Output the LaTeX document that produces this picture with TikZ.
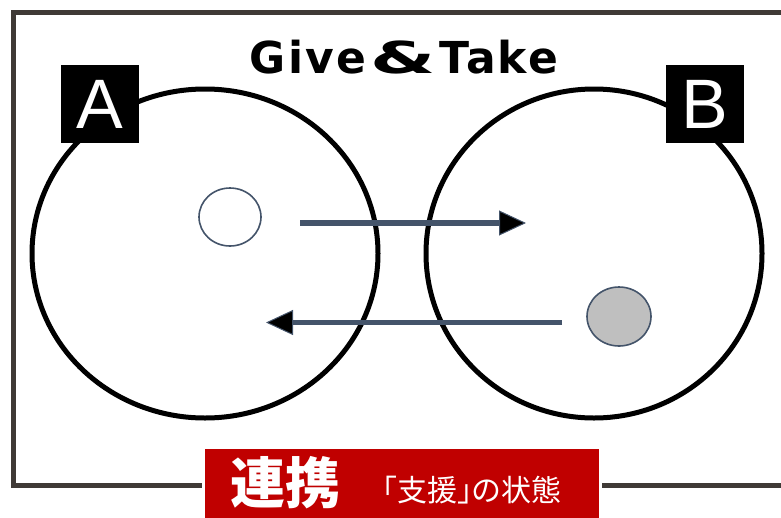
\documentclass[tikz,border=0pt]{standalone}
\usepackage{fontspec}
\usepackage{graphicx}
\usetikzlibrary{arrows.meta,shapes.geometric}
\setmainfont{Liberation Sans}
\newfontfamily\titlefont[LetterSpace=5]{DejaVu Sans}
\newfontfamily\cjkfont{Noto Sans CJK JP}
\definecolor{slate}{HTML}{44546A}
\definecolor{framec}{HTML}{3F3A36}
\definecolor{redc}{HTML}{C00000}
\definecolor{grayfill}{HTML}{BFBFBF}
\tikzset{
  bigcirc/.style={draw=black, line width=5pt, ellipse, inner sep=0},
  smallcirc/.style={draw=slate, line width=1.6pt, ellipse, inner sep=0},
  letterbox/.style={fill=black, text=white, inner sep=0, minimum width=78pt, minimum height=78pt,
    font=\fontsize{70}{72}\selectfont},
  flow/.style={draw=slate, line width=5.5pt,
    -{Triangle[length=27pt,width=25pt,line width=1pt,fill=black]}},
}
\begin{document}
\begin{tikzpicture}[x=1pt,y=-1pt]
\useasboundingbox (0,0) rectangle (781,517);
% frame
\draw[framec, line width=5pt] (800,12) -- (13,12) -- (13,485) -- (800,485);
% big circles
\node[bigcirc, minimum width=346pt, minimum height=329pt] (A) at (205,253.5) {};
\node[bigcirc, minimum width=336pt, minimum height=329pt] (B) at (594,253.5) {};
% small circles
\node[smallcirc, fill=white, minimum width=62pt, minimum height=58pt] (ca) at (230,217) {};
\node[smallcirc, fill=grayfill, minimum width=64pt, minimum height=59pt] (cb) at (619,316.5) {};
% arrows
\coordinate (a1s) at (300,223);
\coordinate (a1e) at (526,223);
\coordinate (a2s) at (562,322.5);
\coordinate (a2e) at (266,322.5);
\draw[flow] (a1s) -- (a1e);
\draw[flow] (a2s) -- (a2e);
% letter boxes
\node[letterbox] (la) at (100,104) {A};
\node[letterbox] (lb) at (704.5,104) {B};
% title
\node[anchor=base, inner sep=0] (title) at (404,73)
  {\titlefont\bfseries\fontsize{44}{46}\selectfont Give\hspace{4pt}\scalebox{1.7}[1]{\&}\hspace{4pt}Take};
% red label
\node[fill=redc, draw=white, line width=3pt, inner sep=0, minimum width=397pt, minimum height=80pt,
  anchor=north west] (label) at (201.5,445.5) {};
\node[anchor=base west, inner sep=0, text=white, font=\cjkfont\bfseries\fontsize{55}{57}\selectfont]
  (ren) at (230,503) {連携};
\node[anchor=base west, inner sep=0, text=white, font=\cjkfont\fontsize{30}{32}\selectfont]
  (jotai) at (367,501) {「支援」\hspace{-16pt}の状態};
\end{tikzpicture}
\end{document}
